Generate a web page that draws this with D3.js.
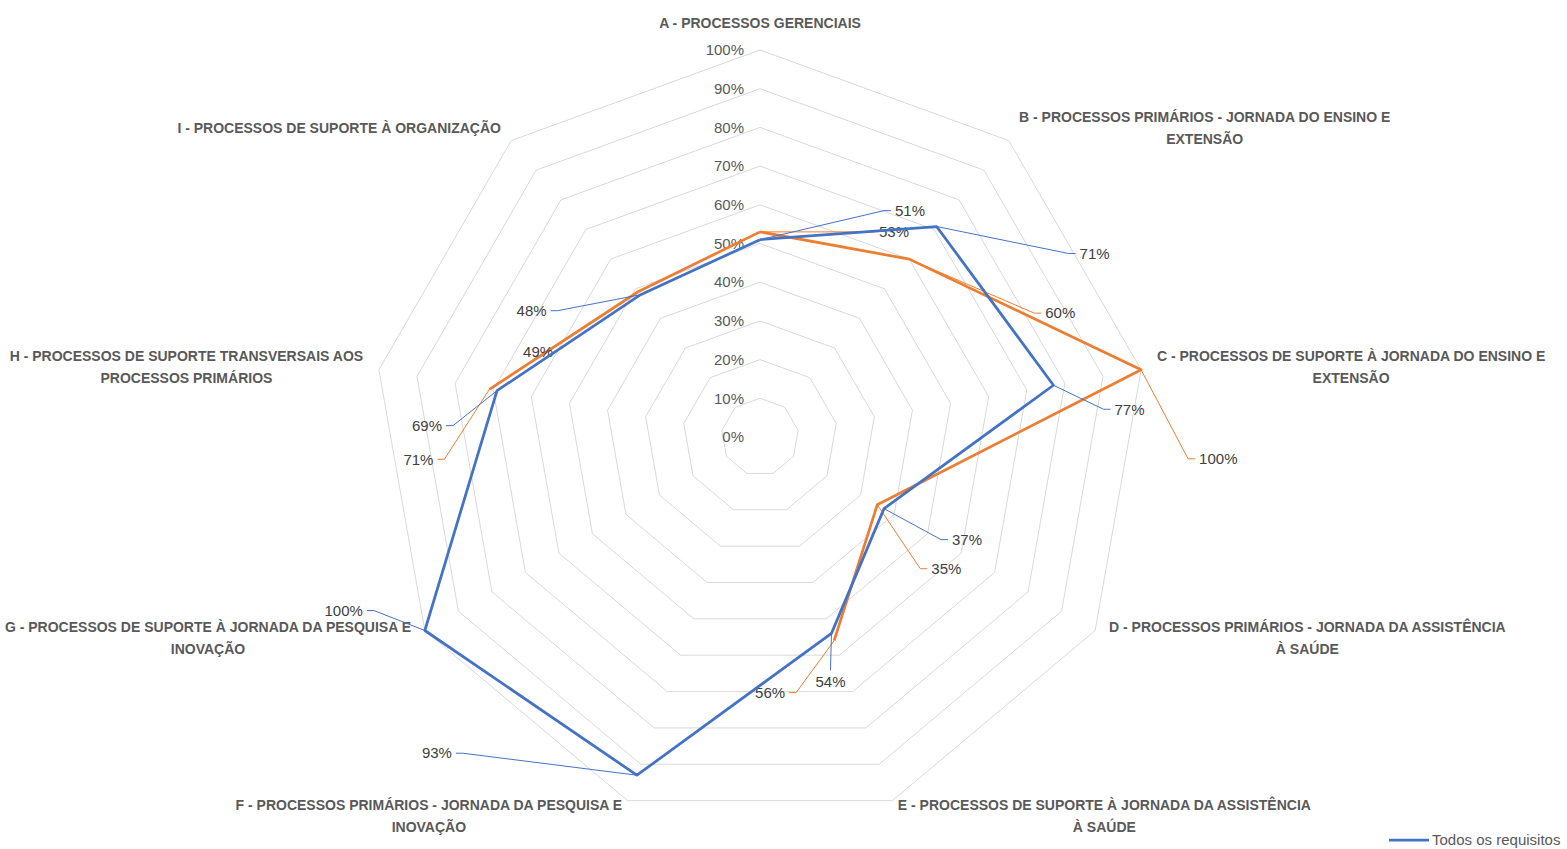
<!DOCTYPE html>
<html>
<head>
<meta charset="utf-8">
<script src="https://cdn.jsdelivr.net/npm/d3@7"></script>
<style>
  html, body { margin: 0; padding: 0; background: #fff; overflow: hidden; }
  svg { display: block; }
  .cat { font-family: "Liberation Sans", sans-serif; font-weight: bold; font-size: 14px; fill: #595959; }
  .tick { font-family: "Liberation Sans", sans-serif; font-size: 15px; fill: #595959; }
  .lbl { font-family: "Liberation Sans", sans-serif; font-size: 15px; fill: #404040; }
  .leg { font-family: "Liberation Sans", sans-serif; font-size: 15px; fill: #595959; }
</style>
</head>
<body>
<svg id="chart"></svg>
<script>
// categories, one entry per axis, already broken into lines like the original
const categories = [
  ["A - PROCESSOS GERENCIAIS"],
  ["B - PROCESSOS PRIMÁRIOS - JORNADA DO ENSINO E", "EXTENSÃO"],
  ["C - PROCESSOS DE SUPORTE À JORNADA DO ENSINO E", "EXTENSÃO"],
  ["D - PROCESSOS PRIMÁRIOS - JORNADA DA ASSISTÊNCIA", "À SAÚDE"],
  ["E - PROCESSOS DE SUPORTE À JORNADA DA ASSISTÊNCIA", "À SAÚDE"],
  ["F - PROCESSOS PRIMÁRIOS - JORNADA DA PESQUISA E", "INOVAÇÃO"],
  ["G - PROCESSOS DE SUPORTE À JORNADA DA PESQUISA E", "INOVAÇÃO"],
  ["H - PROCESSOS DE SUPORTE TRANSVERSAIS AOS", "PROCESSOS PRIMÁRIOS"],
  ["I - PROCESSOS DE SUPORTE À ORGANIZAÇÃO"]
];
const ticks = [0, 0.1, 0.2, 0.3, 0.4, 0.5, 0.6, 0.7, 0.8, 0.9, 1];

const blueName = "Todos os requisitos";
const blueValues = [0.51, 0.71, 0.77, 0.37, 0.54, 0.93, 1.00, 0.69, 0.48];
// second series has no values for F and G
const orangeValues = [0.53, 0.60, 1.00, 0.35, 0.56, null, null, 0.71, 0.49];

// where each data label sits relative to its point (leader end), and on which side
const blueLabelPos = [
  [131, -29, "r"], [139, 27, "r"], [57, 24, "r"], [64, 31, "r"], [-1, 37, "b"],
  [-181, -22, "l"], [-58, -20, "l"], [-51, 35, "l"], [-90, 16, "l"]
];
const orangeLabelPos = [
  [115, 0, "r"], [132, 54, "r"], [54, 89, "r"], [50, 64, "r"], [-45, 52, "l"],
  null, null, [-52, 70, "l"], [-100, 60, "n"]
];

const width = 1567, height = 849;
const cx = 760, cy = 437, R = 387;
const blue = "#4472C4", orange = "#ED7D31";

const svg = d3.select("#chart").attr("width", width).attr("height", height);
const g = svg.append("g").attr("transform", `translate(${cx},${cy})`);

const n = categories.length;
const angle = d3.scaleLinear().domain([0, n]).range([0, 2 * Math.PI]);
const r = d3.scaleLinear().domain([0, 1]).range([0, R]);

const pt = (i, v) => {
  const a = angle(i);
  return [r(v) * Math.sin(a), -r(v) * Math.cos(a)];
};

// grid rings
const ring = d3.lineRadial()
  .angle((d, i) => angle(i))
  .radius(d => r(d))
  .curve(d3.curveLinearClosed);
g.append("g").selectAll("path")
  .data(ticks.filter(t => t > 0))
  .join("path")
  .attr("d", t => ring(d3.range(n).map(() => t)))
  .attr("fill", "none")
  .attr("stroke", "#d9d9d9")
  .attr("stroke-width", 1);

// tick labels up the first axis
g.append("g").selectAll("text")
  .data(ticks)
  .join("text")
  .attr("class", "tick")
  .attr("x", -16)
  .attr("y", t => -r(t))
  .attr("dy", "0.35em")
  .attr("text-anchor", "end")
  .text(t => d3.format(".0%")(t));

// category labels
const catG = g.append("g");
categories.forEach((lines, i) => {
  const a = angle(i);
  const s = Math.sin(a), c = Math.cos(a);
  const ax = (R + 16) * s, ay = -(R + 16) * c;
  const lh = 22;
  const t = catG.append("text").attr("class", "cat");
  const spans = lines.map(l => t.append("tspan").text(l));
  const widths = spans.map(sp => sp.node().getComputedTextLength());
  const w = d3.max(widths);
  let mid;
  if (Math.abs(s) < 0.01) mid = ax;
  else if (s > 0) mid = ax + w / 2;
  else mid = ax - w / 2;
  let top;
  if (Math.abs(s) < 0.01) top = ay - lines.length * lh;
  else top = ay - lines.length * lh / 2;
  spans.forEach((sp, k) => sp
    .attr("x", mid)
    .attr("y", top + lh * k + lh / 2)
    .attr("dy", "0.35em")
    .attr("text-anchor", "middle"));
});

// series lines (close back to A, gaps where no value)
const seriesLine = d3.line()
  .defined(d => d.v != null)
  .x(d => pt(d.i, d.v)[0])
  .y(d => pt(d.i, d.v)[1]);

function drawSeries(values, color, layout) {
  const pts = values.map((v, i) => ({ i, v }));
  pts.push({ i: n, v: values[0] });
  g.append("path")
    .datum(pts)
    .attr("d", seriesLine)
    .attr("fill", "none")
    .attr("stroke", color)
    .attr("stroke-width", 2.75)
    .attr("stroke-linejoin", "round");

  const lg = g.append("g");
  values.forEach((v, i) => {
    if (v == null || !layout[i]) return;
    const [px, py] = pt(i, v);
    const [dx, dy, side] = layout[i];
    const ex = px + dx, ey = py + dy;
    const txt = d3.format(".0%")(v);
    if (side !== "n") {
      let d;
      if (side === "b") d = `M${px},${py}L${ex},${ey}`;
      else {
        const k = side === "r" ? -7 : 7;
        d = `M${px},${py}L${ex + k},${ey}L${ex},${ey}`;
      }
      lg.append("path").attr("d", d)
        .attr("fill", "none").attr("stroke", color).attr("stroke-width", 1);
    }
    const t = lg.append("text").attr("class", "lbl").attr("dy", "0.35em").text(txt);
    if (side === "r") t.attr("x", ex + 4).attr("y", ey).attr("text-anchor", "start");
    else if (side === "l") t.attr("x", ex - 4).attr("y", ey).attr("text-anchor", "end");
    else if (side === "b") t.attr("x", ex).attr("y", ey + 11).attr("text-anchor", "middle");
    else t.attr("x", ex).attr("y", ey).attr("text-anchor", "middle");
  });
}

drawSeries(orangeValues, orange, orangeLabelPos);
drawSeries(blueValues, blue, blueLabelPos);

// legend (only the first entry fits inside the frame)
const leg = svg.append("g").attr("transform", `translate(1389,840)`);
leg.append("line").attr("x1", 0).attr("x2", 40).attr("y1", 0).attr("y2", 0)
  .attr("stroke", blue).attr("stroke-width", 2.75);
leg.append("text").attr("class", "leg").attr("x", 43).attr("y", 0).attr("dy", "0.35em").text(blueName);
</script>
</body>
</html>
